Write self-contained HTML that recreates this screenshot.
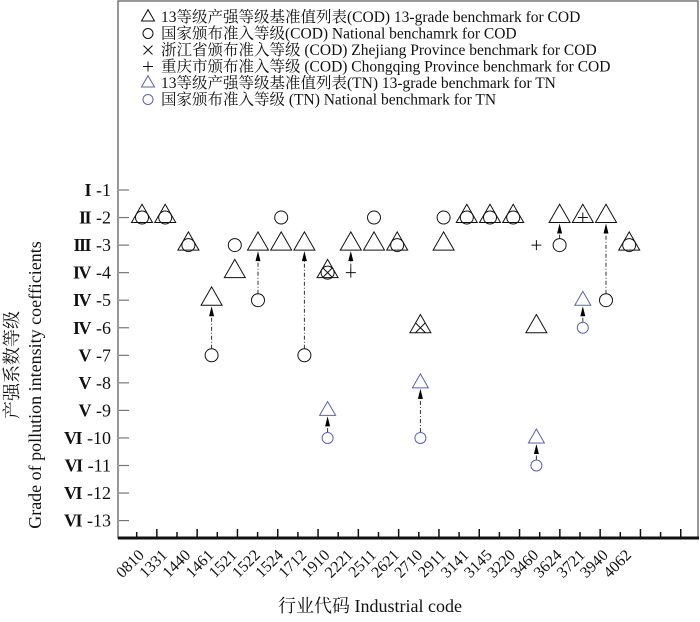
<!DOCTYPE html>
<html><head><meta charset="utf-8"><style>
body{margin:0;background:#fff;}
svg text{font-family:"Liberation Serif","Noto Serif CJK SC",serif;fill:#111;}
</style></head><body>
<svg id="c" width="700" height="617" viewBox="0 0 700 617" xmlns="http://www.w3.org/2000/svg">
<rect x="118" y="1" width="580" height="537" fill="none" stroke="#777" stroke-width="1.5"/>
<line x1="118" y1="538" x2="699" y2="538" stroke="#111" stroke-width="3"/>
<g id="legend"></g>
<g id="marks"></g>
<g id="axes"></g>
<text x="0" y="0" font-size="18" text-anchor="middle" transform="translate(18,365) rotate(-90)">产强系数等级</text>
<text x="0" y="0" font-size="18" text-anchor="middle" transform="translate(41,385) rotate(-90)">Grade of pollution intensity coefficients</text>
<text x="370" y="612" font-size="18" text-anchor="middle">行业代码 Industrial code</text>
</svg>
<script>
const categories=["0810","1331","1440","1461","1521","1522","1524","1712","1910","2221","2511","2621","2710","2911","3141","3145","3220","3460","3624","3721","3940","4062"];
const codTri=[2,2,3,5,4,3,3,3,4,3,3,3,6,3,2,2,2,6,2,2,2,3];
const codCirc=[2,2,3,7,3,5,2,7,4,null,2,3,null,2,2,2,2,null,3,null,5,3];
const codX=[null,null,null,null,null,null,null,null,4,null,null,null,6,null,null,null,null,null,null,null,null,null];
const codPlus=[null,null,null,null,null,null,null,null,null,4,null,null,null,null,null,null,null,3,null,2,null,null];
const tnTri=[null,null,null,null,null,null,null,null,9,null,null,null,8,null,null,null,null,10,null,5,null,null];
const tnCirc=[null,null,null,null,null,null,null,null,10,null,null,null,10,null,null,null,null,11,null,6,null,null];
const arrowsCOD=["1461","1522","1712","2221","3624","3940"];
const arrowsTN=["1910","2710","3460","3721"];
const yTicks=[1,2,3,4,5,6,7,8,9,10,11,12,13];
const yRoman=["I","II","III","IV","IV","IV","V","V","V","VI","VI","VI","VI"];
const legendLabels=["13等级产强等级基准值列表(COD) 13-grade benchmark for COD","国家颁布准入等级(COD) National benchamrk for COD","浙江省颁布准入等级 (COD) Zhejiang Province benchmark for COD","重庆市颁布准入等级 (COD) Chongqing Province benchmark for COD","13等级产强等级基准值列表(TN) 13-grade benchmark for TN","国家颁布准入等级 (TN) National benchmark for TN"];

const NS="http://www.w3.org/2000/svg";
const BLUE="#5c62b4";
function xs(i){return 142+23.2*i;}
function ys(g){return 190+27.55*(g-1);}
function mk(tag,attrs,parent){const e=document.createElementNS(NS,tag);for(const k in attrs)e.setAttribute(k,attrs[k]);parent.appendChild(e);return e;}
const marks=document.getElementById('marks'),axes=document.getElementById('axes'),legend=document.getElementById('legend');

function tri(parent,cx,cy,w,col){return mk('polygon',{points:`${cx-w/2},${cy+5} ${cx+w/2},${cy+5} ${cx},${cy+5-w*0.87}`,fill:'none',stroke:col,'stroke-width':1},parent);}
function circ(parent,cx,cy,r,col){return mk('circle',{cx:cx,cy:cy,r:r,fill:'none',stroke:col,'stroke-width':1},parent);}
function cross(parent,cx,cy,s,col){return mk('path',{d:`M${cx-s} ${cy-s}L${cx+s} ${cy+s}M${cx+s} ${cy-s}L${cx-s} ${cy+s}`,stroke:col,'stroke-width':1,fill:'none'},parent);}
function plus(parent,cx,cy,s,col){return mk('path',{d:`M${cx-s} ${cy}L${cx+s} ${cy}M${cx} ${cy-s}L${cx} ${cy+s}`,stroke:col,'stroke-width':1,fill:'none'},parent);}

yTicks.forEach((g,i)=>{
  const y=ys(g);
  const t=mk('line',{x1:119,y1:y,x2:129,y2:y,stroke:'#777','stroke-width':1.2},axes);
  
  
  const l=mk('text',{x:111,y:y+6,'font-size':18,'text-anchor':'end'},axes);
  const r=mk('tspan',{'letter-spacing':'-1.5','font-weight':'bold'},l);
  r.textContent=yRoman[i];
  const n=mk('tspan',{dx:6},l);
  n.textContent="-"+g;
  
  
});
for(let i=0;i<29;i++){
  const x=136.7+20.15*i;
  const t=mk('line',{x1:x,y1:538,x2:x,y2:i%2?529:532,stroke:'#111','stroke-width':1.5},axes);
  
  
}
categories.forEach((c,i)=>{
  const x=xs(i)+3,y=556;
  const l=mk('text',{x:0,y:0,'font-size':16,'text-anchor':'end',transform:`translate(${x},${y}) rotate(-45)`},axes);
  l.textContent=c;
  
  
});
function arrow(i,fromG,toG,fromR){
  const x=xs(i),y1=ys(fromG)-fromR,y2=ys(toG)+5;
  const a=mk('line',{x1:x,y1:y1,x2:x,y2:y2+9,stroke:'#333','stroke-width':1,'stroke-dasharray':'4,2,1,2'},marks);
  
  
  const h=mk('polygon',{points:`${x-2.5},${y2+11} ${x+2.5},${y2+11} ${x},${y2+1}`,fill:'#000'},marks);
  
  
}
arrowsCOD.forEach(c=>{const i=categories.indexOf(c);
  if(codCirc[i]!=null)arrow(i,codCirc[i],codTri[i],6.5);else if(codPlus[i]!=null)arrow(i,codPlus[i],codTri[i],5);});
arrowsTN.forEach(c=>{const i=categories.indexOf(c);arrow(i,tnCirc[i],tnTri[i],6);});
categories.forEach((c,i)=>{
  const x=xs(i);
  if(codTri[i]!=null){const e=tri(marks,x,ys(codTri[i]),21,'#111');}
  if(codCirc[i]!=null){const e=circ(marks,x,ys(codCirc[i]),6.5,'#111');}
  if(codX[i]!=null){const e=cross(marks,x,ys(codX[i]),5,'#111');}
  if(codPlus[i]!=null){const e=plus(marks,x,ys(codPlus[i]),5,'#111');}
  if(tnTri[i]!=null){const e=tri(marks,x,ys(tnTri[i]),16,BLUE);}
  if(tnCirc[i]!=null){const e=circ(marks,x,ys(tnCirc[i]),5.5,BLUE);}
});
const legY=[17,33.5,50,66.5,83,99.5];
legendLabels.forEach((t,i)=>{
  const y=legY[i],x=148;
  let m;
  if(i==0)m=tri(legend,x,y-1,13,'#111');
  else if(i==1)m=circ(legend,x,y,5,'#111');
  else if(i==2)m=cross(legend,x,y,4.5,'#111');
  else if(i==3)m=plus(legend,x,y,5,'#111');
  else if(i==4)m=tri(legend,x,y-1,13,BLUE);
  else m=circ(legend,x,y,5,BLUE);
  
  
  const l=mk('text',{x:161,y:y+5,'font-size':15.5},legend);
  l.textContent=t;
  
  
});
</script>
</body></html>
